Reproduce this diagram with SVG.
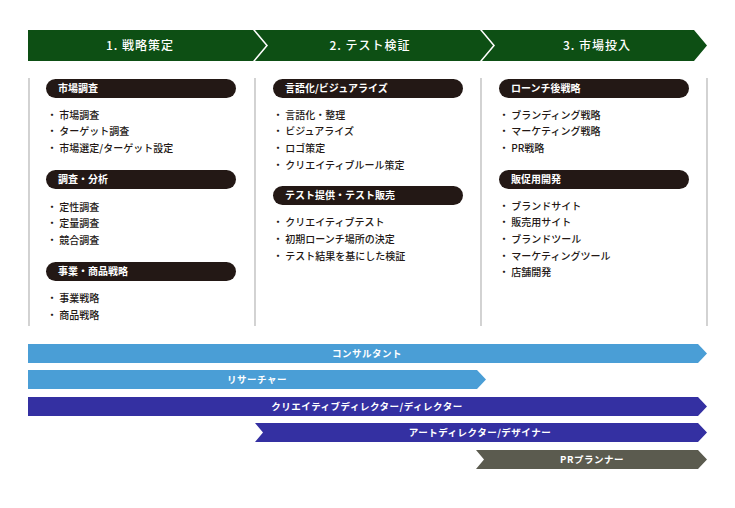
<svg xmlns="http://www.w3.org/2000/svg" width="735" height="508" viewBox="0 0 735 508">
<style>
text{font-family:"Noto Sans CJK JP","Noto Sans",sans-serif}
.hd{fill:#0d4f14}.ht{fill:#fff;font-size:12px;font-weight:500;text-anchor:middle;letter-spacing:1px}
.pill{fill:#231815}.pt{fill:#fff;font-size:10px;font-weight:700}
.it{fill:#231815;font-size:10px;font-weight:500}
.sep{stroke:#b5b5b5;stroke-width:1.2}
.bt{fill:#fff;font-size:9.5px;font-weight:700;text-anchor:middle;letter-spacing:0.5px}
</style>
<rect width="735" height="508" fill="#fff"/>
<g id="headers">
<polygon class="hd" points="28,30 253,30 266,45.5 253,61 28,61"/>
<text class="ht" x="140" y="50">1. 戦略策定</text>
<polygon class="hd" points="255,30 480,30 493,45.5 480,61 255,61 268,45.5"/>
<text class="ht" x="370" y="50">2. テスト検証</text>
<polygon class="hd" points="482,30 694,30 707,45.5 694,61 482,61 495,45.5"/>
<text class="ht" x="597" y="50">3. 市場投入</text>
</g>
<g id="separators">
<line class="sep" x1="29" y1="78" x2="29" y2="326"/>
<line class="sep" x1="255" y1="78" x2="255" y2="326"/>
<line class="sep" x1="481" y1="78" x2="481" y2="326"/>
<line class="sep" x1="707" y1="78" x2="707" y2="326"/>
</g>
<g id="col1">
<rect class="pill" x="46" y="79" width="190" height="19" rx="9.5"/><text class="pt" x="58" y="92">市場調査</text>
<text class="it" x="47" y="119">・ 市場調査</text>
<text class="it" x="47" y="135">・ ターゲット調査</text>
<text class="it" x="47" y="152">・ 市場選定/ターゲット設定</text>
<rect class="pill" x="46" y="170" width="190" height="19" rx="9.5"/><text class="pt" x="58" y="183">調査・分析</text>
<text class="it" x="47" y="211">・ 定性調査</text>
<text class="it" x="47" y="227">・ 定量調査</text>
<text class="it" x="47" y="244">・ 競合調査</text>
<rect class="pill" x="46" y="262" width="190" height="19" rx="9.5"/><text class="pt" x="58" y="275">事業・商品戦略</text>
<text class="it" x="47" y="302">・ 事業戦略</text>
<text class="it" x="47" y="319">・ 商品戦略</text>
</g>
<g id="col2">
<rect class="pill" x="273" y="79" width="190" height="19" rx="9.5"/><text class="pt" x="285" y="92">言語化/ビジュアライズ</text>
<text class="it" x="273" y="119">・ 言語化・整理</text>
<text class="it" x="273" y="135">・ ビジュアライズ</text>
<text class="it" x="273" y="152">・ ロゴ策定</text>
<text class="it" x="273" y="169">・ クリエイティブルール策定</text>
<rect class="pill" x="273" y="186" width="190" height="19" rx="9.5"/><text class="pt" x="285" y="199">テスト提供・テスト販売</text>
<text class="it" x="273" y="226">・ クリエイティブテスト</text>
<text class="it" x="273" y="243">・ 初期ローンチ場所の決定</text>
<text class="it" x="273" y="260">・ テスト結果を基にした検証</text>
</g>
<g id="col3">
<rect class="pill" x="499" y="79" width="190" height="19" rx="9.5"/><text class="pt" x="511" y="92">ローンチ後戦略</text>
<text class="it" x="499" y="119">・ ブランディング戦略</text>
<text class="it" x="499" y="135">・ マーケティング戦略</text>
<text class="it" x="499" y="152">・ PR戦略</text>
<rect class="pill" x="499" y="170" width="190" height="19" rx="9.5"/><text class="pt" x="511" y="183">販促用開発</text>
<text class="it" x="499" y="210">・ ブランドサイト</text>
<text class="it" x="499" y="226">・ 販売用サイト</text>
<text class="it" x="499" y="243">・ ブランドツール</text>
<text class="it" x="499" y="260">・ マーケティングツール</text>
<text class="it" x="499" y="276">・ 店舗開発</text>
</g>
<g id="roles">
<polygon fill="#4a9ed6" points="28,344 698,344 707,353.5 698,363 28,363"/>
<text class="bt" x="367" y="357">コンサルタント</text>
<polygon fill="#4a9ed6" points="28,370 477,370 486,379.5 477,389 28,389"/>
<text class="bt" x="257" y="383">リサーチャー</text>
<polygon fill="#3430a2" points="28,397 698,397 707,406.5 698,416 28,416"/>
<text class="bt" x="367" y="410">クリエイティブディレクター/ディレクター</text>
<polygon fill="#3430a2" points="255,423 698,423 707,432.5 698,442 255,442 263,432.5"/>
<text class="bt" x="480" y="436">アートディレクター/デザイナー</text>
<polygon fill="#5b5b4f" points="476,450 698,450 707,459.5 698,469 476,469 484,459.5"/>
<text class="bt" x="592" y="463">PRプランナー</text>
</g>
</svg>
